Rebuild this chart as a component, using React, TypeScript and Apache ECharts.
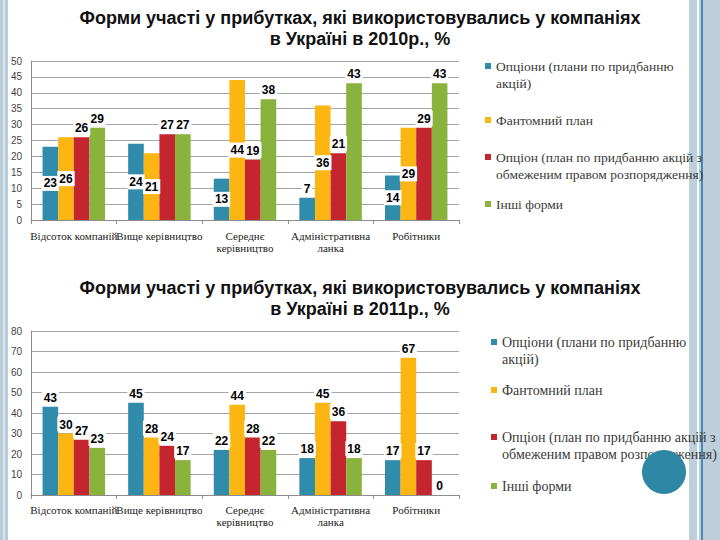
import React, { useEffect, useRef } from "react";
import * as echarts from "echarts";

const categories = [
  "Відсоток компаній",
  "Вище керівництво",
  "Середнє\nкерівництво",
  "Адміністративна\nланка",
  "Робітники",
];

const seriesNames = [
  "Опціони (плани по придбанню акцій)",
  "Фантомний план",
  "Опціон (план по придбанню акцій з обмеженим правом розпорядження)",
  "Інші форми",
];

const legendLabels = [
  "Опціони (плани по придбанню\nакцій)",
  "Фантомний план",
  "Опціон (план по придбанню акцій з\nобмеженим правом розпорядження)",
  "Інші форми",
];

const titles = [
  "Форми участі у прибутках, які використовувались у компаніях\nв Україні в 2010р., %",
  "Форми участі у прибутках, які використовувались у компаніях\nв Україні в 2011р., %",
];

// 2010
const options2010 = [23, 24, 13, 7, 14];
const phantom2010 = [26, 21, 44, 36, 29];
const restricted2010 = [26, 27, 19, 21, 29];
const other2010 = [29, 27, 38, 43, 43];
const yMax2010 = 50;
const yStep2010 = 5;

// 2011
const options2011 = [43, 45, 22, 18, 17];
const phantom2011 = [30, 28, 44, 45, 67];
const restricted2011 = [27, 24, 28, 36, 17];
const other2011 = [23, 17, 22, 18, 0];
const yMax2011 = 80;
const yStep2011 = 10;

const colors = ["#318BAA", "#FBB614", "#C3262E", "#89B33C"];

const LABEL_FONT = "Liberation Sans";
const SERIF = "serif";

export default function App() {
  const ref = useRef<HTMLDivElement>(null);

  useEffect(() => {
    if (!ref.current) return;
    const chart = echarts.init(ref.current, undefined, { renderer: "svg" });

    const data2010 = [options2010, phantom2010, restricted2010, other2010];
    const data2011 = [options2011, phantom2011, restricted2011, other2011];

    const labelBase = {
      show: true,
      color: "#000",
      fontFamily: LABEL_FONT,
      fontWeight: "bold" as const,
      fontSize: 12,
      backgroundColor: "#fff",
      padding: [2, 2, 1, 2],
      distance: 2,
    };

    const pos2010 = (si: number, v: number) => {
      if (si === 0) return v < 10 ? "top" : "inside";
      if (si === 1) return "inside";
      return "top";
    };

    const series: any[] = [];
    data2010.forEach((arr, si) => {
      series.push({
        type: "bar",
        name: seriesNames[si],
        xAxisIndex: 0,
        yAxisIndex: 0,
        barGap: "0%",
        barCategoryGap: "27%",
        itemStyle: { color: colors[si] },
        label: labelBase,
        data: arr.map((v) => ({ value: v, label: { position: pos2010(si, v) } })),
      });
    });
    data2011.forEach((arr, si) => {
      series.push({
        type: "bar",
        name: seriesNames[si],
        xAxisIndex: 1,
        yAxisIndex: 1,
        barGap: "0%",
        barCategoryGap: "27%",
        itemStyle: { color: colors[si] },
        label: { ...labelBase, position: "top" },
        data: arr,
      });
    });

    const xAxisBase = (margin: number) => ({
      type: "category",
      data: categories,
      axisLine: { show: true, lineStyle: { color: "#8C8C8C" } },
      axisTick: { show: true, length: 4, lineStyle: { color: "#8C8C8C" } },
      axisLabel: {
        interval: 0,
        margin,
        color: "#222",
        fontFamily: SERIF,
        fontSize: 11,
        lineHeight: 12,
        hideOverlap: false,
      },
    });

    const yAxisBase = (max: number, step: number) => ({
      type: "value",
      min: 0,
      max,
      interval: step,
      axisLine: { show: true, lineStyle: { color: "#8C8C8C" } },
      axisTick: { show: false },
      axisLabel: { color: "#444", fontFamily: LABEL_FONT, fontSize: 10, margin: 9 },
      splitLine: { show: true, lineStyle: { color: "#A6A6A6", width: 1 } },
    });

    const L = 17;
    const legendTops2010 = [66, 120, 157, 204];
    const legendTops2011 = [342, 390, 437, 486];
    const legends: any[] = [];
    const mkLegend = (i: number, left: number, y: number, size: number) => {
      const twoLine = legendLabels[i].includes("\n");
      legends.push({
        left,
        top: twoLine ? y - 1.5 * L : y - L / 2,
        padding: 0,
        orient: "vertical",
        selectedMode: false,
        itemWidth: 6,
        itemHeight: 6,
        itemGap: 0,
        icon: "rect",
        data: [seriesNames[i]],
        formatter: () => (twoLine ? " \n" + legendLabels[i] : legendLabels[i]),
        textStyle: {
          color: "#3A3A3A",
          fontFamily: SERIF,
          fontSize: size,
          lineHeight: L,
        },
      });
    };
    legendTops2010.forEach((y, i) => mkLegend(i, 485, y, 13.5));
    legendTops2011.forEach((y, i) => mkLegend(i, 491, y, 14));

    chart.setOption({
      animation: false,
      backgroundColor: "#fff",
      title: titles.map((t, i) => ({
        text: t,
        left: "center",
        top: i === 0 ? 7 : 277,
        padding: 0,
        textStyle: {
          fontFamily: LABEL_FONT,
          fontWeight: "bold",
          fontSize: 18,
          lineHeight: 21,
          color: "#111",
        },
      })),
      legend: legends,
      grid: [
        { left: 31, right: 261, top: 61, height: 159, containLabel: false },
        { left: 31, right: 261, top: 331, height: 164, containLabel: false },
      ],
      xAxis: [{ ...xAxisBase(10), gridIndex: 0 }, { ...xAxisBase(9), gridIndex: 1 }],
      yAxis: [
        { ...yAxisBase(yMax2010, yStep2010), gridIndex: 0 },
        { ...yAxisBase(yMax2011, yStep2011), gridIndex: 1 },
      ],
      series,
      graphic: [
        { type: "rect", shape: { x: 0, y: 0, width: 8, height: 540 }, style: { fill: "#B7CBD9" }, z: 1 },
        { type: "rect", shape: { x: 3, y: 0, width: 2, height: 540 }, style: { fill: "#DCE6EE" }, z: 1 },
        { type: "rect", shape: { x: 689, y: 0, width: 31, height: 540 }, style: { fill: "#BDCFDB" }, z: 1 },
        { type: "rect", shape: { x: 697, y: 0, width: 2, height: 540 }, style: { fill: "#F4F8FA" }, z: 1 },
        { type: "rect", shape: { x: 701, y: 0, width: 2, height: 540 }, style: { fill: "#4A86AF" }, z: 1 },
        { type: "circle", shape: { cx: 664, cy: 472, r: 22 }, style: { fill: "#2E87A4" }, z: 100 },
      ],
    });

    return () => chart.dispose();
  }, []);

  return (
    <div
      ref={ref}
      style={{ position: "absolute", left: 0, top: 0, width: 720, height: 540 }}
    />
  );
}
